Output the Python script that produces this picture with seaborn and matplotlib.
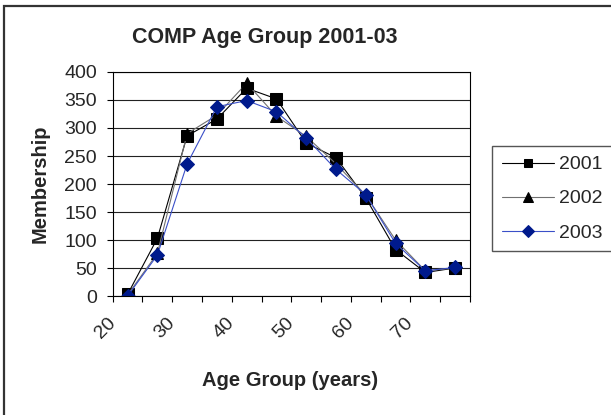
import numpy as np
import pandas as pd
import matplotlib
matplotlib.use("Agg")
import matplotlib.pyplot as plt
from matplotlib.patches import Rectangle
import seaborn as sns

# --- data ---
age_mid = [22.5, 27.5, 32.5, 37.5, 42.5, 47.5, 52.5, 57.5, 62.5, 67.5, 72.5, 77.5]
members_2001 = [3, 103, 286, 316, 371, 352, 273, 247, 175, 83, 42, 50]
members_2002 = [2, 76, 290, 323, 380, 321, 285, 236, 180, 100, 45, 50]
members_2003 = [0, 73, 236, 338, 349, 329, 282, 226, 181, 94, 45, 51]
years = ["2001", "2002", "2003"]
x_ticks = [20, 25, 30, 35, 40, 45, 50, 55, 60, 65, 70, 75, 80]
x_ticklabels = ["20", "", "30", "", "40", "", "50", "", "60", "", "70", "", ""]

df = pd.DataFrame({
    "age": age_mid * 3,
    "members": members_2001 + members_2002 + members_2003,
    "year": np.repeat(years, len(age_mid)),
})

sns.set_style("white")
plt.rcParams["font.family"] = ["Liberation Sans", "DejaVu Sans"]

styles = {
    "2001": dict(color="black", marker="s", mfc="black", mec="black", ms=8.5),
    "2002": dict(color="#707070", marker="^", mfc="black", mec="black", ms=9),
    "2003": dict(color="#3a4fc8", marker="D", mfc="#001a8c", mec="#001a8c", ms=7.5),
}

fig = plt.figure(figsize=(6.11, 4.15), dpi=100)
ax = fig.add_axes([112.7 / 611, 1 - 296 / 415, (470 - 112.7) / 611, (296 - 72) / 415])

for yr in years:
    st = styles[yr]
    sns.lineplot(data=df[df["year"] == yr], x="age", y="members", ax=ax,
                 color=st["color"], marker=st["marker"], markersize=st["ms"],
                 markerfacecolor=st["mfc"], markeredgecolor=st["mec"],
                 lw=0.8, label=yr, legend=False)

ax.set_xlim(20, 80)
ax.set_ylim(0, 400)
ax.set_yticks(range(0, 401, 50))
ax.set_xticks(x_ticks)
ax.set_xticklabels(x_ticklabels, rotation=45, ha="right", va="center",
                   rotation_mode="anchor")
ax.set_xlabel("")
ax.set_ylabel("")
ax.yaxis.grid(True, color="#222222", lw=0.8)
ax.xaxis.grid(False)
for sp in ax.spines.values():
    sp.set_color("black")
    sp.set_linewidth(0.8)
ax.tick_params(axis="x", direction="out", length=4.3, width=0.8, pad=13,
               labelsize=14, bottom=True, color="black")
ax.tick_params(axis="y", direction="out", length=4.3, width=0.8, pad=7,
               labelsize=14, left=True, color="black")

fig.text(265 / 611, 1 - 37 / 415, "COMP Age Group 2001-03", ha="center", va="center",
         fontsize=15.5, fontweight="bold")
fig.text(40 / 611, 1 - 184 / 415, "Membership", rotation=90, ha="center", va="center",
         fontsize=14.5, fontweight="bold")
fig.text(290 / 611, 1 - 380 / 415, "Age Group (years)", ha="center", va="center",
         fontsize=14.5, fontweight="bold")

handles, labels = ax.get_legend_handles_labels()
leg = fig.legend(handles, labels, loc="upper left", bbox_to_anchor=(492 / 611, 1 - 146 / 415),
                 borderaxespad=0, fontsize=14, frameon=True, fancybox=False,
                 edgecolor="#555555", framealpha=1, handlelength=2.7,
                 handletextpad=0.25, labelspacing=0.85, borderpad=0.5,
                 markerscale=0.75)
leg.get_frame().set_linewidth(1.0)

fig.patches.append(Rectangle((4 / 611, -0.1), 2, 1 - 6 / 415 + 0.1, transform=fig.transFigure,
                             fill=False, edgecolor="#333333", lw=1.6))

fig.savefig("out.png", dpi=100)
